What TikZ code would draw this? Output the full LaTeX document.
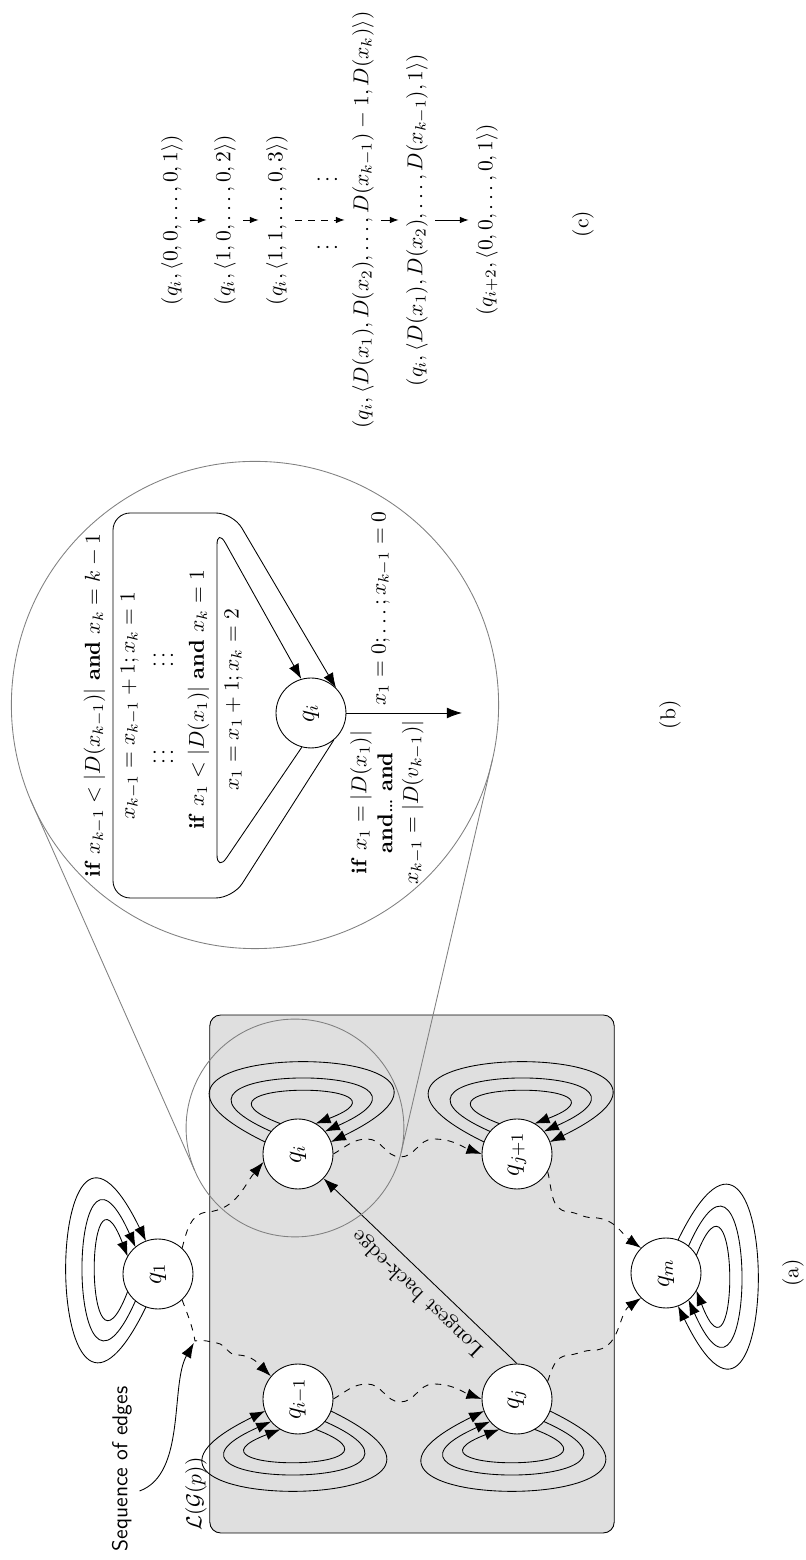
\documentclass[tikz,border=0pt]{standalone}
\usepackage{tikz}
\usepackage{xcolor}
\usetikzlibrary{positioning, calc, arrows.meta}

\begin{document}
\begin{tikzpicture}[rotate=90, transform shape, x=0.0163cm, y=0.0163cm,
  >={Latex[length=7pt, width=5pt]},
  st/.style={draw, circle, fill=white, minimum size=1.14cm, inner sep=0pt, font=\large},
  seqedge/.style={->, dashed},
  lens/.style={draw=gray, circle, inner sep=0pt, outer sep=0pt},
  cstep/.style={-{Latex[length=4pt, width=3pt]}}]
  \useasboundingbox (0,0) rectangle (1560,805);

  \node[draw, fill=gray!25, rounded corners=5pt, minimum width=8.44cm, minimum height=6.59cm] (lang) at (286,393) {};
  \node[anchor=south west, inner sep=1pt] (lgp) at (lang.north west) {$\mathcal{L}(\mathcal{G}(p))$};

  \node[st] (q1) at (286,647) {$q_1$};
  \node[st] (qim1) at (161,507) {$q_{i-1}$};
  \node[st] (qi) at (406,507) {$q_i$};
  \node[st] (qj) at (161,288) {$q_j$};
  \node[st] (qj1) at (406,288) {$q_{j+1}$};
  \node[st] (qm) at (287,139) {$q_m$};

  \foreach \nd/\dir in {q1/90, qi/0, qj1/0, qim1/180, qj/180, qm/-90} {
    \foreach \ang/\ctl/\len in {30/69/122, 50/66/173, 70/64/242} {
      \pgfmathtruncatemacro{\sa}{\dir+\ang}
      \pgfmathtruncatemacro{\ea}{\dir-\ang}
      \pgfmathtruncatemacro{\sc}{\dir+\ctl}
      \pgfmathtruncatemacro{\ec}{\dir-\ctl}
      \draw[->] ($(\nd)+(\sa:35)$) .. controls +(\sc:\len) and +(\ec:\len) .. ($(\nd)+(\ea:35)$);
    }
  }

  \coordinate (bend) at (219,610);
  \draw[seqedge] (q1.-43) to[out=-15, in=95] ++(36,-25) to[out=-85, in=140] (qi.103);
  \draw[seqedge] (q1.223) to[out=200, in=10] (bend) to[out=-80, in=80] ++(-2,-22)
    to[out=-100, in=90] ++(-12,-20) to[out=-90, in=45] (qim1.50);
  \draw[seqedge] (qim1.south) to[out=-60, in=90] ++(15,-34) to[out=-90, in=90] ++(-18,-33)
    to[out=-90, in=90] ++(18,-33) to[out=-90, in=70] (qj.north);
  \draw[seqedge] (qi.south) to[out=-60, in=90] ++(15,-34) to[out=-90, in=90] ++(-18,-33)
    to[out=-90, in=90] ++(18,-33) to[out=-90, in=70] (qj1.north);
  \draw[seqedge] (qj.-60) to[out=-20, in=95] ++(26,-20) to[out=-85, in=90] ++(5,-25)
    to[out=-90, in=125] (qm.135);
  \draw[seqedge] (qj1.240) to[out=195, in=85] ++(-40,-20) to[out=-95, in=90] ++(-6,-25)
    to[out=-90, in=55] (qm.45);
  \draw[->] (qj.east) -- node[sloped, above, pos=0.45] {Longest back-edge} (qi);

  \node[font=\sffamily] (seq) at (91,683) {Sequence of edges};
  \draw[->, shorten >=1pt] ($(seq.south)+(-22,0)$) .. controls +(-70:50) and +(150:50) .. (bend);

  \node[lens, minimum size=3.55cm] (mag) at (432,510) {};
  \node[lens, minimum size=7.94cm] (zoom) at (855,550) {};
  \draw[gray] (mag.113) -- (zoom.113);
  \draw[gray] (mag.257) -- (zoom.257);

  \node[st] (zi) at (847,494) {$q_i$};
  \draw[->, rounded corners=8pt] (zi.220) -- (662,572) -- (662,692)
    -- node[above] {\textbf{if} $x_{k-1} < |D(x_{k-1})|$ \textbf{and} $x_k = k-1$}
       node[below] {$x_{k-1} = x_{k-1}+1; x_k = 1$} (1047,692)
    -- (1047,572) -- (zi.-45);
  \draw[->, rounded corners=8pt] (zi.165) -- (688,588)
    -- node[above] {\textbf{if} $x_1 < |D(x_1)|$ \textbf{and} $x_k = 1$}
       node[below] {$x_1 = x_1+1; x_k = 2$} (1032,588) -- (zi.16);
  \node (dotsl) at (803,648) {$\vdots\,\vdots$};
  \node (dotsr) at (900,648) {$\vdots\,\vdots$};
  \coordinate (exit) at (847,343);
  \draw[->] (zi.south) -- node[pos=0.3, right] {$x_1 = 0; \ldots; x_{k-1} = 0$}
    node[pos=0.35, left, align=center] {\textbf{if} $x_1 = |D(x_1)|$\\ \textbf{and}\ldots\ \textbf{and}\\ $x_{k-1} = |D(v_{k-1})|$} (exit);

  \node (c1) at (1340,633) {$(q_i, \langle 0, 0, \ldots, 0, 1\rangle)$};
  \node (c2) at (1340,580) {$(q_i, \langle 1, 0, \ldots, 0, 2\rangle)$};
  \node (c3) at (1340,528) {$(q_i, \langle 1, 1, \ldots, 0, 3\rangle)$};
  \node (c4) at (1340,442) {$(q_i, \langle D(x_1), D(x_2), \ldots, D(x_{k-1})-1, D(x_k)\rangle)$};
  \node (c5) at (1340,388) {$(q_i, \langle D(x_1), D(x_2), \ldots, D(x_{k-1}), 1\rangle)$};
  \node (c6) at (1340,318) {$(q_{i+2}, \langle 0, 0, \ldots, 0, 1\rangle)$};
  \draw[cstep] (c1) -- (c2);
  \draw[cstep] (c2) -- (c3);
  \draw[cstep, dashed] (c3) -- (c4);
  \draw[cstep] (c4) -- (c5);
  \draw[cstep] (c5) -- (c6);
  \node (vl) at (1312,484) {$\vdots$};
  \node (vr) at (1380,484) {$\vdots$};

  \node (capa) at (287,12) {(a)};
  \node (capb) at (845,135) {(b)};
  \node (capc) at (1336,222) {(c)};
\end{tikzpicture}
\end{document}
